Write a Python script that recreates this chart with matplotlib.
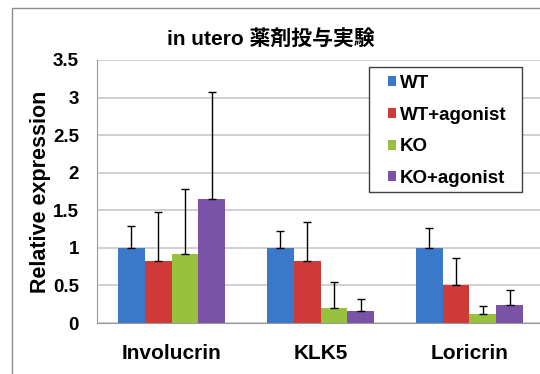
import matplotlib.pyplot as plt
import numpy as np
from matplotlib.patches import Rectangle

plt.rcParams['font.family'] = ['Liberation Sans', 'Noto Sans CJK JP', 'DejaVu Sans']

genes = ["Involucrin", "KLK5", "Loricrin"]
groups = ["WT", "WT+agonist", "KO", "KO+agonist"]
values = {
    "WT": [1.0, 1.0, 1.0],
    "WT+agonist": [0.82, 0.83, 0.51],
    "KO": [0.92, 0.20, 0.12],
    "KO+agonist": [1.65, 0.16, 0.24],
}
errors = {
    "WT": [0.29, 0.23, 0.26],
    "WT+agonist": [0.66, 0.51, 0.36],
    "KO": [0.86, 0.35, 0.11],
    "KO+agonist": [1.42, 0.16, 0.20],
}
colors = ["#3a78c9", "#cf3a38", "#98c23d", "#7a52a6"]

fig = plt.figure(figsize=(5.4, 3.74), dpi=100)
# outer chart frame
fig.patches.append(Rectangle((12 / 540, -0.05), 1.1, 1 - 8 / 374 + 0.05,
                             transform=fig.transFigure, fill=False,
                             edgecolor="#8c8c8c", linewidth=1.0))
ax = fig.add_axes([97 / 540, 1 - 323 / 374, 447 / 540, 263 / 374])

x = np.arange(len(genes))
w = 0.18
for i, g in enumerate(groups):
    pos = x + (i - 1.5) * w
    ax.bar(pos, values[g], w, color=colors[i], label=g, zorder=2)
    ax.errorbar(pos, values[g], yerr=[np.zeros(3), errors[g]], fmt="none",
                ecolor="black", elinewidth=1, capsize=3, capthick=1, zorder=3)

ax.set_xlim(-0.5, 2.5)
ax.set_ylim(0, 3.5)
ax.set_yticks(np.arange(0, 3.51, 0.5))
ax.set_yticklabels(["0", "0.5", "1", "1.5", "2", "2.5", "3", "3.5"])
ax.set_xticks(x)
ax.set_xticklabels(genes, fontsize=15, fontweight="bold")
ax.tick_params(axis="y", labelsize=13.5, length=0, pad=13)
ax.tick_params(axis="x", length=0, pad=15)
for lbl in ax.get_yticklabels():
    lbl.set_fontweight("bold")
ax.yaxis.grid(True, color="#c8c8c8", linewidth=1.2, zorder=0)
ax.set_axisbelow(True)
for s in ["top", "right"]:
    ax.spines[s].set_visible(False)
ax.spines["left"].set_color("#9a9a9a")
ax.spines["bottom"].set_color("#9a9a9a")
ax.set_ylabel("Relative expression", fontsize=15.5, fontweight="bold")
ax.yaxis.set_label_coords(-0.103, 0.5)

fig.text(271 / 540, 1 - 39 / 374, "in utero 薬剤投与実験", ha="center", va="center",
         fontsize=15, fontweight="bold")

# legend box drawn separately so the padding matches the original
ax.add_patch(Rectangle((369 / 540, 1 - 192 / 374), 153 / 540, 125 / 374,
                       transform=fig.transFigure, facecolor="white",
                       edgecolor="#404040", linewidth=1.0, zorder=4,
                       clip_on=False))
leg = ax.legend(loc="upper left", bbox_to_anchor=(388 / 540, 1 - 75 / 374),
                bbox_transform=fig.transFigure, frameon=False,
                handlelength=0.45, handleheight=0.45, handletextpad=0.2,
                labelspacing=0.78, borderpad=0, borderaxespad=0,
                prop={"weight": "bold", "size": 13.5})
leg.set_zorder(5)

fig.savefig("out.png", dpi=100)
